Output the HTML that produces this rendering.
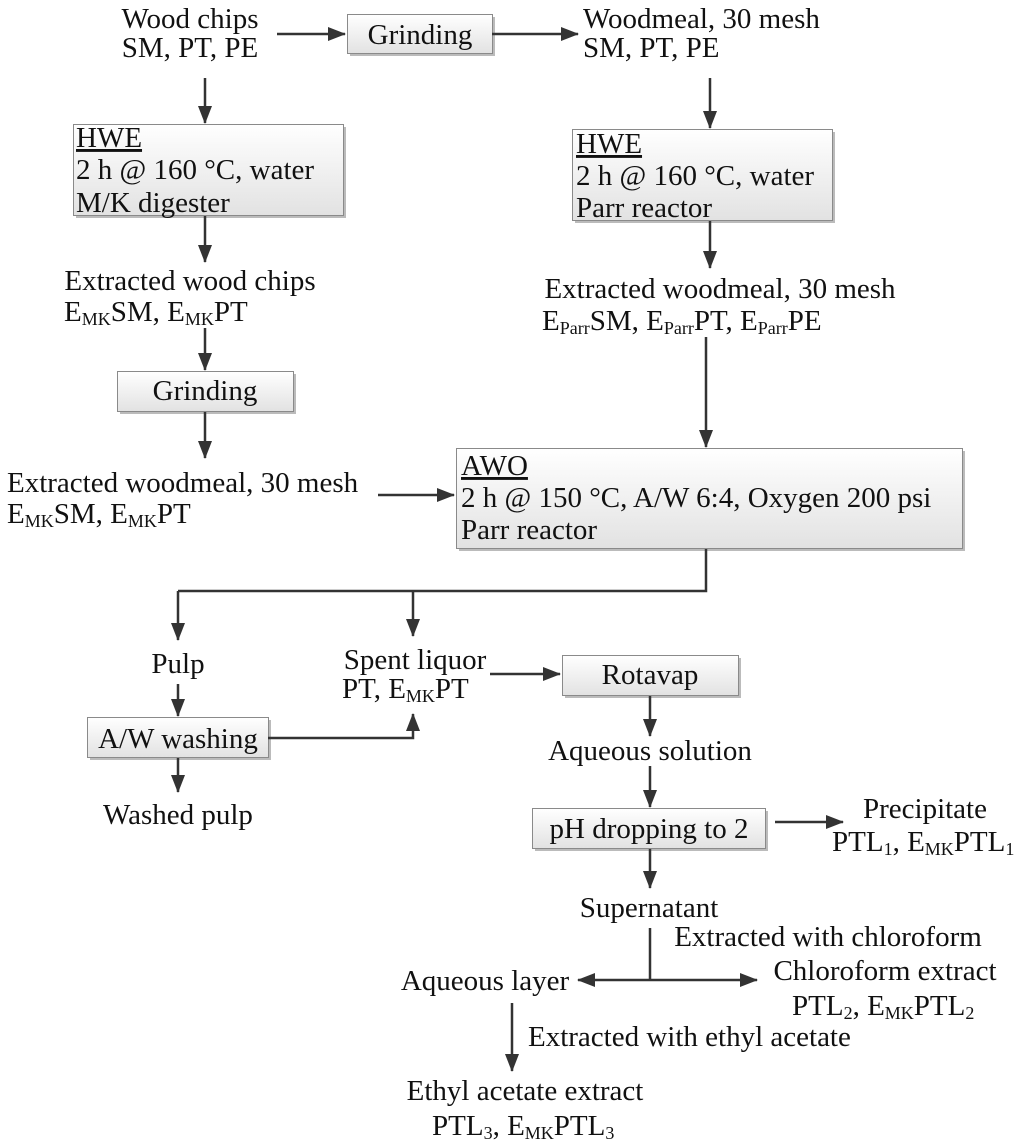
<!DOCTYPE html>
<html><head><meta charset="utf-8"><style>
html,body{margin:0;padding:0;background:#fff}
svg{display:block}
text{font-family:"Liberation Serif",serif;font-size:29px;fill:#111}
.s{font-size:18px}
</style></head><body>
<svg width="1024" height="1140" viewBox="0 0 1024 1140" xmlns="http://www.w3.org/2000/svg">
<defs>
<linearGradient id="g" x1="0" y1="0" x2="0" y2="1"><stop offset="0" stop-color="#ffffff"/><stop offset="1" stop-color="#e2e2e2"/></linearGradient>
<marker id="A" markerWidth="18" markerHeight="14" refX="17" refY="7" orient="auto" markerUnits="userSpaceOnUse" viewBox="0 0 18 14"><path d="M0,0 L18,7 L0,14 Z" fill="#333"/></marker>
</defs>
<g fill="#bbb">
<rect x="350" y="17" width="145" height="39"/><rect x="76" y="127" width="270" height="91"/><rect x="575" y="132" width="260" height="91"/>
<rect x="120" y="374" width="176" height="40"/><rect x="459" y="451" width="506" height="100"/><rect x="90" y="720" width="181" height="40"/>
<rect x="565" y="658" width="176" height="40"/><rect x="535" y="811" width="233" height="40"/>
</g>
<g fill="url(#g)" stroke="#8a8a8a" stroke-width="1">
<rect x="347.5" y="14.5" width="145" height="39"/><rect x="73.5" y="124.5" width="270" height="91"/><rect x="572.5" y="129.5" width="260" height="91"/>
<rect x="117.5" y="371.5" width="176" height="40"/><rect x="456.5" y="448.5" width="506" height="100"/><rect x="87.5" y="717.5" width="181" height="40"/>
<rect x="562.5" y="655.5" width="176" height="40"/><rect x="532.5" y="808.5" width="233" height="40"/>
</g>
<g stroke="#333" stroke-width="2.5" fill="none" marker-end="url(#A)">
<line x1="277" y1="34" x2="345" y2="34"/>
<line x1="492" y1="34" x2="578" y2="34"/>
<line x1="205" y1="78" x2="205" y2="123"/>
<line x1="710" y1="78" x2="710" y2="128"/>
<line x1="205" y1="216" x2="205" y2="262"/>
<line x1="205" y1="328" x2="205" y2="370"/>
<line x1="205" y1="412" x2="205" y2="458"/>
<line x1="710" y1="221" x2="710" y2="268"/>
<line x1="706" y1="337" x2="706" y2="447"/>
<line x1="378" y1="495" x2="454" y2="495"/>
<line x1="178" y1="591" x2="178" y2="640"/>
<line x1="413" y1="591" x2="413" y2="636"/>
<line x1="178" y1="684" x2="178" y2="716"/>
<polyline points="268,738 413,738 413,714"/>
<line x1="178" y1="758" x2="178" y2="792"/>
<line x1="490" y1="674" x2="560" y2="674"/>
<line x1="650" y1="696" x2="650" y2="736"/>
<line x1="650" y1="766" x2="650" y2="807"/>
<line x1="775" y1="822" x2="843" y2="822"/>
<line x1="650" y1="849" x2="650" y2="888"/>
<line x1="650" y1="980" x2="757" y2="980"/>
<line x1="650" y1="980" x2="578" y2="980"/>
<line x1="512" y1="1003" x2="512" y2="1071"/>
</g>
<g stroke="#333" stroke-width="2.5" fill="none">
<polyline points="706,549 706,591 178,591"/>
<line x1="650" y1="928" x2="650" y2="980"/>
</g>
<g text-anchor="middle">
<text x="190" y="28">Wood chips</text>
<text x="190" y="57">SM, PT, PE</text>
<text x="420" y="44">Grinding</text>
<text x="190" y="290">Extracted wood chips</text>
<text x="205" y="400">Grinding</text>
<text x="720" y="298">Extracted woodmeal, 30 mesh</text>
<text x="178" y="673">Pulp</text>
<text x="178" y="748">A/W washing</text>
<text x="178" y="824">Washed pulp</text>
<text x="415" y="669">Spent liquor</text>
<text x="650" y="684">Rotavap</text>
<text x="650" y="760">Aqueous solution</text>
<text x="649" y="838">pH dropping to 2</text>
<text x="925" y="818">Precipitate</text>
<text x="649" y="917">Supernatant</text>
<text x="828" y="946">Extracted with chloroform</text>
<text x="485" y="990">Aqueous layer</text>
<text x="885" y="980">Chloroform extract</text>
<text x="525" y="1100">Ethyl acetate extract</text>
</g>
<text x="583" y="28">Woodmeal, 30 mesh</text>
<text x="583" y="57">SM, PT, PE</text>
<text x="76" y="147" text-decoration="underline">HWE</text>
<text x="76" y="179">2 h @ 160 °C, water</text>
<text x="76" y="212">M/K digester</text>
<text x="576" y="153" text-decoration="underline">HWE</text>
<text x="576" y="185">2 h @ 160 °C, water</text>
<text x="576" y="217">Parr reactor</text>
<text x="64" y="321">E<tspan class="s" dy="4">MK</tspan><tspan dy="-4">SM, E</tspan><tspan class="s" dy="4">MK</tspan><tspan dy="-4">PT</tspan></text>
<text x="7" y="492">Extracted woodmeal, 30 mesh</text>
<text x="7" y="523">E<tspan class="s" dy="4">MK</tspan><tspan dy="-4">SM, E</tspan><tspan class="s" dy="4">MK</tspan><tspan dy="-4">PT</tspan></text>
<text x="542" y="330">E<tspan class="s" dy="4">Parr</tspan><tspan dy="-4">SM, E</tspan><tspan class="s" dy="4">Parr</tspan><tspan dy="-4">PT, E</tspan><tspan class="s" dy="4">Parr</tspan><tspan dy="-4">PE</tspan></text>
<text x="461" y="475" text-decoration="underline">AWO</text>
<text x="461" y="507">2 h @ 150 °C, A/W 6:4, Oxygen 200 psi</text>
<text x="461" y="539">Parr reactor</text>
<text x="342" y="698">PT, E<tspan class="s" dy="4">MK</tspan><tspan dy="-4">PT</tspan></text>
<text x="832" y="851">PTL<tspan class="s" dy="4">1</tspan><tspan dy="-4">, E</tspan><tspan class="s" dy="4">MK</tspan><tspan dy="-4">PTL</tspan><tspan class="s" dy="4">1</tspan></text>
<text x="792" y="1015">PTL<tspan class="s" dy="4">2</tspan><tspan dy="-4">, E</tspan><tspan class="s" dy="4">MK</tspan><tspan dy="-4">PTL</tspan><tspan class="s" dy="4">2</tspan></text>
<text x="528" y="1046">Extracted with ethyl acetate</text>
<text x="432" y="1135">PTL<tspan class="s" dy="4">3</tspan><tspan dy="-4">, E</tspan><tspan class="s" dy="4">MK</tspan><tspan dy="-4">PTL</tspan><tspan class="s" dy="4">3</tspan></text>
</svg>
</body></html>
